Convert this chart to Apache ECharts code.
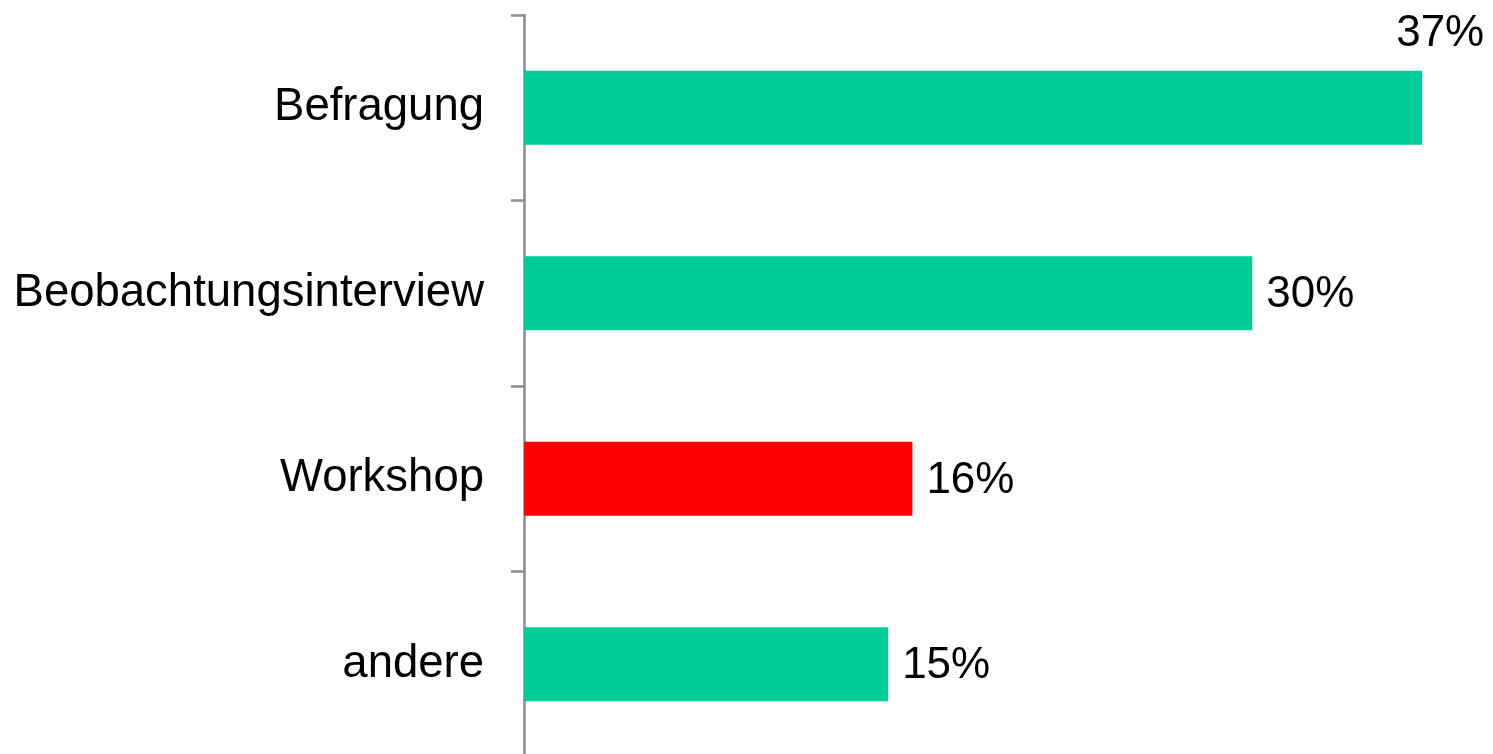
<!DOCTYPE html>
<html>
<head>
<meta charset="utf-8">
<script src="https://cdn.jsdelivr.net/npm/echarts@6/dist/echarts.min.js"></script>
<style>
html,body{margin:0;padding:0;background:#fff;}
#chart{width:1493px;height:754px;}
</style>
</head>
<body>
<div id="chart"></div>
<script>
const categories = ['Befragung', 'Beobachtungsinterview', 'Workshop', 'andere'];
const values = [37, 30, 16, 15];
const barColors = ['#00CC99', '#00CC99', '#FF0000', '#00CC99'];

const chart = echarts.init(document.getElementById('chart'));
const data = values.map((v, i) => {
  const item = { value: v, itemStyle: { color: barColors[i] } };
  if (i === 0) {
    item.label = { offset: [-40, -74] };
  }
  return item;
});
chart.setOption({
  animation: false,
  grid: { left: 524, top: 15, width: 971, height: 742, outerBoundsMode: 'none' },
  xAxis: {
    type: 'value', min: 0, max: 40, show: false
  },
  yAxis: {
    type: 'category', data: categories, inverse: true,
    axisLine: { show: true, lineStyle: { color: '#8c8c8c', width: 2.5 } },
    axisTick: { show: true, length: 13, lineStyle: { color: '#8c8c8c', width: 2.5 } },
    axisLabel: { margin: 40, fontFamily: 'Liberation Sans', fontSize: 45.5, color: '#000' }
  },
  series: [{
    type: 'bar', data: data, barWidth: 74,
    label: {
      show: true, position: 'right', distance: 14,
      formatter: '{c}%', fontFamily: 'Liberation Sans', fontSize: 44, color: '#000',
      offset: [0, 2]
    }
  }]
});
</script>
</body>
</html>
